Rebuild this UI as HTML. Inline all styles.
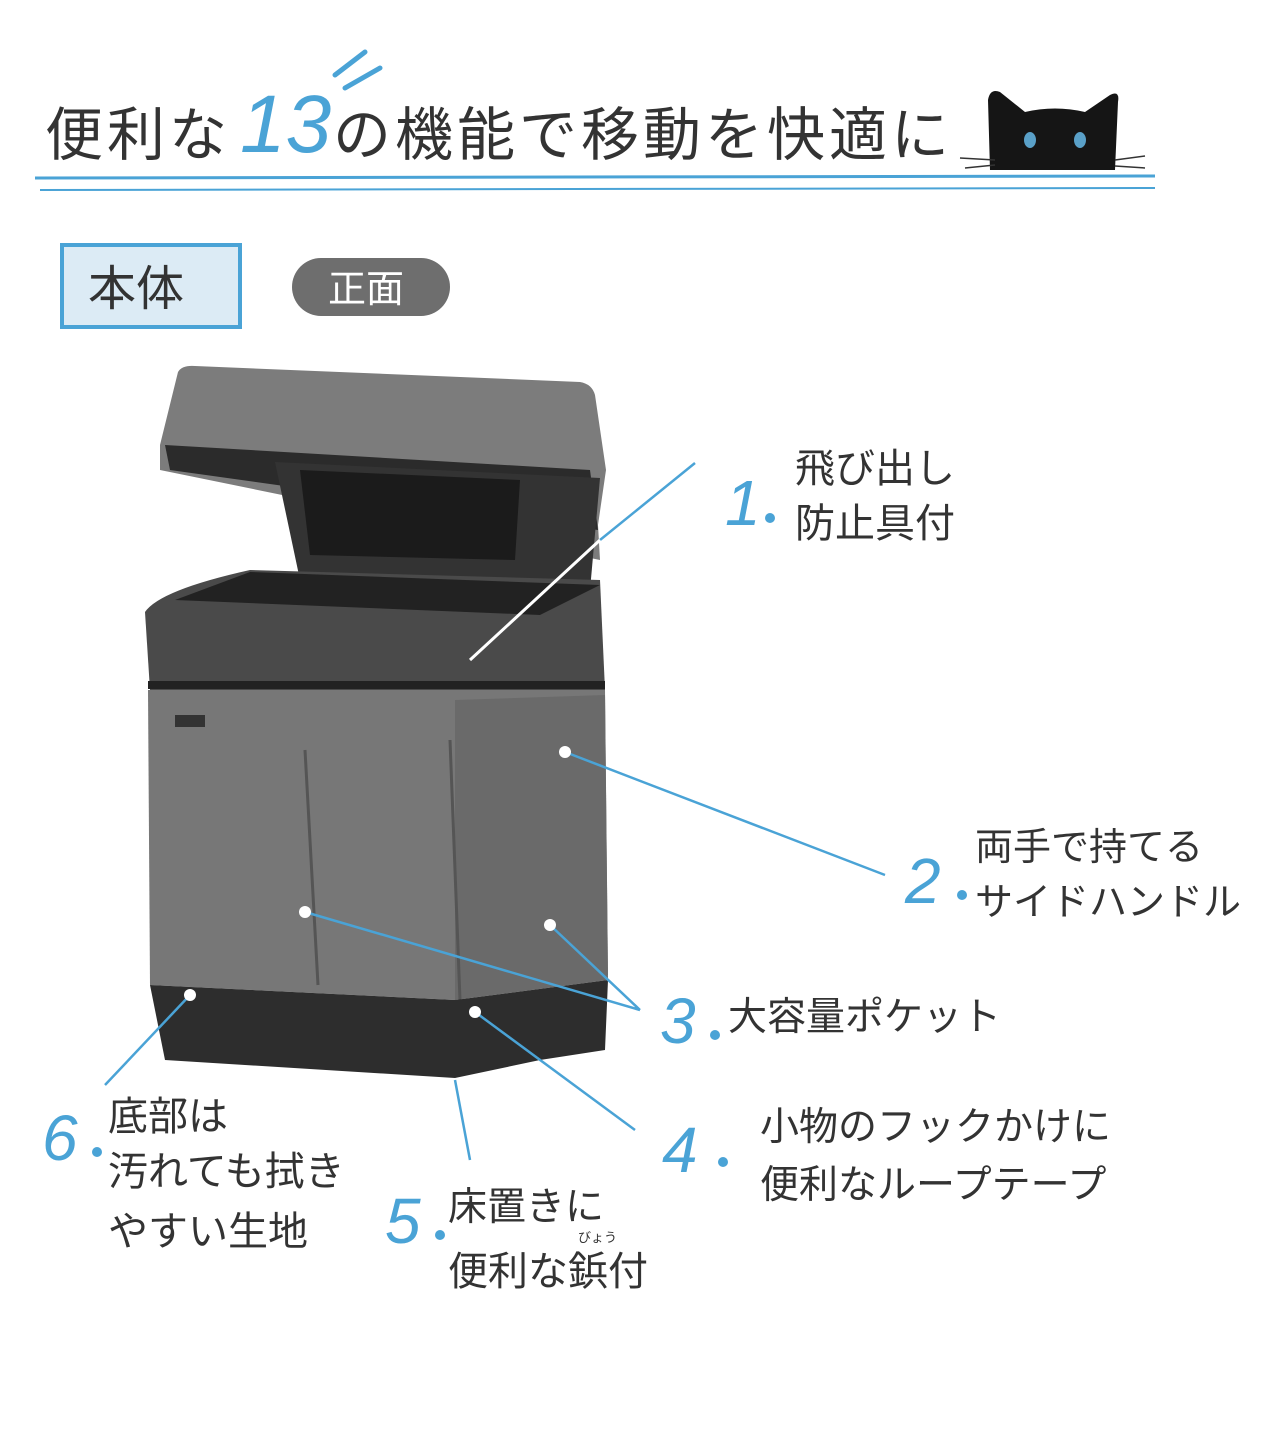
<!DOCTYPE html>
<html><head><meta charset="utf-8"><style>
body{margin:0;background:#fff}
svg{display:block}
.t{font-family:"Liberation Sans","Noto Sans CJK JP",sans-serif;fill:#333}
.n{font-family:"Liberation Sans",sans-serif;fill:#4aa3d6;font-style:italic}
</style></head><body>
<svg width="1274" height="1440" viewBox="0 0 1274 1440" xmlns="http://www.w3.org/2000/svg">
<rect width="1274" height="1440" fill="#fff"/>
<!-- title -->
<text class="t" x="45" y="155" font-size="58" letter-spacing="4" fill="#2a2a2a">便利な</text>
<text class="n" x="240" y="152" font-size="82" font-style="italic">13</text>
<path d="M335 75 L365 52 M345 88 L380 68" stroke="#4aa3d6" stroke-width="5" stroke-linecap="round"/>
<text class="t" x="333" y="155" font-size="58" letter-spacing="4">の機能で移動を快適に</text>
<!-- cat -->
<path d="M990 170 L988 100 Q990 88 1000 92 L1025 112 Q1055 105 1085 112 L1110 95 Q1120 90 1118 102 L1115 170 Z" fill="#151515"/>
<ellipse cx="1030" cy="140" rx="6" ry="8" fill="#5aa0c8"/><ellipse cx="1080" cy="140" rx="6" ry="8" fill="#5aa0c8"/>
<path d="M960 158 L995 160 M965 168 L995 165 M1115 160 L1145 156 M1115 166 L1145 168" stroke="#333" stroke-width="1.5"/>
<path d="M35 178 L1155 176" stroke="#4aa3d6" stroke-width="3"/>
<path d="M40 190 L1155 188" stroke="#4aa3d6" stroke-width="2"/>
<!-- tab box -->
<rect x="62" y="245" width="178" height="82" fill="#dcebf5" stroke="#4aa3d6" stroke-width="4"/>
<text class="t" x="88" y="305" font-size="48">本体</text>
<rect x="292" y="258" width="158" height="58" rx="29" fill="#6e6e6e"/>
<text x="328" y="302" font-size="38" fill="#fff" font-family="Liberation Sans,'Noto Sans CJK JP',sans-serif">正面</text>
<!-- bag -->
<path d="M160 445 L178 372 Q182 365 195 366 L580 382 Q592 384 595 395 L606 470 L598 525 L600 560 L160 470 Z" fill="#7c7c7c"/>
<path d="M165 445 L590 470 L598 530 L170 470 Z" fill="#2b2b2b"/>
<path d="M275 462 L600 478 L590 590 L300 580 Z" fill="#333"/>
<path d="M300 470 L520 480 L515 560 L310 555 Z" fill="#1b1b1b"/>
<path d="M145 612 Q160 590 250 570 L600 580 L605 690 L150 690 Z" fill="#4a4a4a"/>
<path d="M175 600 L250 572 L600 585 L540 615 Z" fill="#222"/>
<path d="M148 690 L605 690 L608 975 L555 985 L455 1000 L150 985 Z" fill="#777"/>
<path d="M455 700 L605 695 L608 980 L455 1000 Z" fill="#6a6a6a"/>
<path d="M305 750 L318 985 M450 740 L460 1000" stroke="#555" stroke-width="3"/>
<path d="M150 985 L455 1000 L608 980 L605 1050 L540 1060 L455 1078 L165 1060 Z" fill="#2d2d2d"/>
<path d="M148 685 L605 685" stroke="#222" stroke-width="8"/>
<rect x="175" y="715" width="30" height="12" fill="#333"/>
<!-- lines -->
<g stroke="#4aa3d6" stroke-width="2.5" fill="none">
<path d="M600 540 L695 463"/>
<path d="M565 752 L885 875"/>
<path d="M305 912 L640 1010 M550 925 L640 1010"/>
<path d="M475 1012 L635 1130"/>
<path d="M455 1080 L470 1160"/>
<path d="M190 995 L105 1085"/>
</g>
<path d="M470 660 L600 540" stroke="#fff" stroke-width="3"/>
<g fill="#fff"><circle cx="565" cy="752" r="6"/><circle cx="305" cy="912" r="6"/><circle cx="550" cy="925" r="6"/><circle cx="475" cy="1012" r="6"/><circle cx="190" cy="995" r="6"/></g>
<!-- labels -->
<text class="n" x="725" y="525" font-size="64">1</text><circle cx="770" cy="518" r="5" fill="#4aa3d6"/>
<text class="t" x="795" y="482" font-size="40">飛び出し</text>
<text class="t" x="795" y="537" font-size="40">防止具付</text>
<text class="n" x="905" y="903" font-size="64">2</text><circle cx="962" cy="895" r="5" fill="#4aa3d6"/>
<text class="t" x="975" y="860" font-size="38">両手で持てる</text>
<text class="t" x="975" y="915" font-size="38">サイドハンドル</text>
<text class="n" x="660" y="1043" font-size="64">3</text><circle cx="715" cy="1035" r="5" fill="#4aa3d6"/>
<text class="t" x="728" y="1030" font-size="39">大容量ポケット</text>
<text class="n" x="662" y="1172" font-size="64">4</text><circle cx="723" cy="1162" r="5" fill="#4aa3d6"/>
<text class="t" x="760" y="1140" font-size="39">小物のフックかけに</text>
<text class="t" x="760" y="1198" font-size="39">便利なループテープ</text>
<text class="n" x="385" y="1243" font-size="64">5</text><circle cx="440" cy="1235" r="5" fill="#4aa3d6"/>
<text class="t" x="448" y="1220" font-size="39">床置きに</text>
<text class="t" x="578" y="1242" font-size="13">びょう</text>
<text class="t" x="448" y="1285" font-size="40">便利な鋲付</text>
<text class="n" x="42" y="1160" font-size="64">6</text><circle cx="97" cy="1152" r="5" fill="#4aa3d6"/>
<text class="t" x="108" y="1130" font-size="40">底部は</text>
<text class="t" x="108" y="1185" font-size="40">汚れても拭き</text>
<text class="t" x="108" y="1245" font-size="40">やすい生地</text>
</svg>
</body></html>
